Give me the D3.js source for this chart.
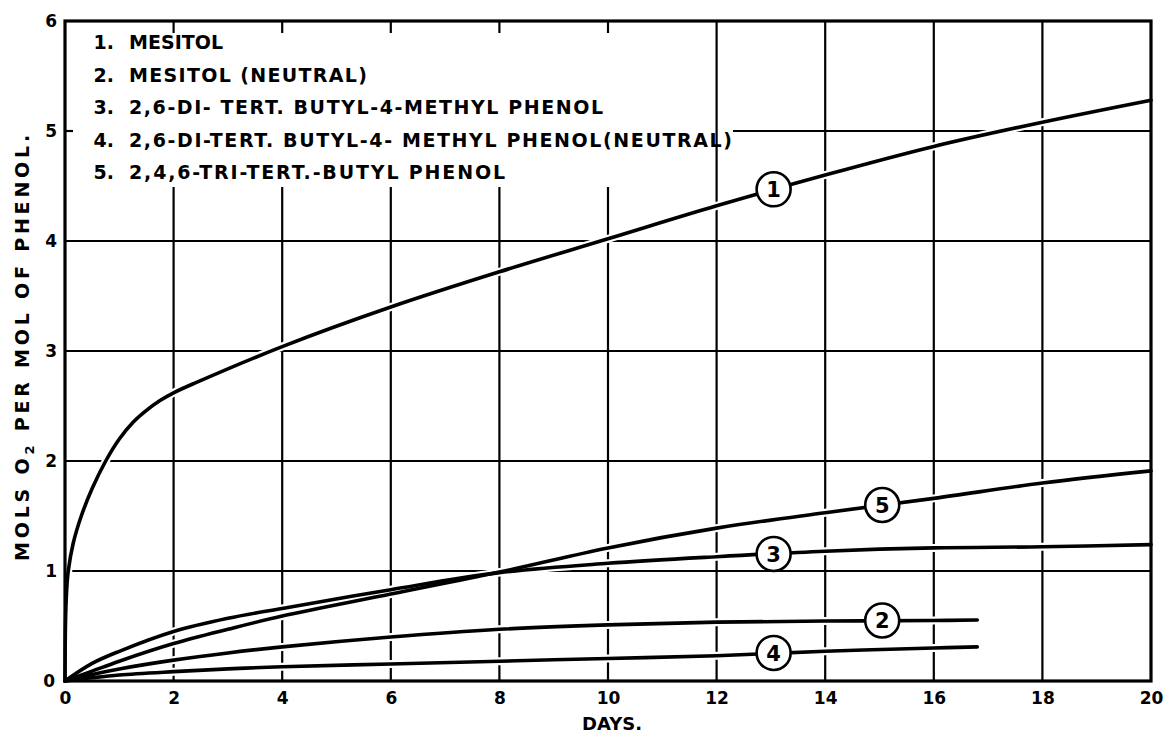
<!DOCTYPE html>
<html>
<head>
<meta charset="utf-8">
<script src="https://cdn.jsdelivr.net/npm/d3@7"></script>
<style>
  body { margin: 0; background: #fff; }
  svg text { font-family: "DejaVu Sans", sans-serif; font-weight: bold; fill: #000; }
</style>
</head>
<body>
<div id="chart"></div>
<script>
// values
var xTicks = [0, 2, 4, 6, 8, 10, 12, 14, 16, 18, 20];
var yTicks = [0, 1, 2, 3, 4, 5, 6];

var mesitolDays = [0, 0.01, 0.03, 0.06, 0.15, 0.3, 0.5, 0.75, 1, 1.25, 1.5, 1.75, 2, 2.4, 4, 6, 8, 10, 12, 14, 16, 18, 20];
var mesitol     = [0, 0.55, 0.82, 1.0, 1.25, 1.5, 1.75, 2.0, 2.2, 2.35, 2.46, 2.55, 2.62, 2.71, 3.04, 3.4, 3.72, 4.02, 4.32, 4.6, 4.86, 5.08, 5.28];

var longDays    = [0, 0.5, 1, 2, 3, 4, 6, 8, 10, 12, 14, 16, 18, 20];
var butylMethyl = [0, 0.16, 0.27, 0.45, 0.57, 0.66, 0.83, 0.985, 1.07, 1.13, 1.18, 1.21, 1.22, 1.24];
var triButyl    = [0, 0.09, 0.18, 0.34, 0.47, 0.59, 0.79, 0.99, 1.21, 1.39, 1.53, 1.66, 1.8, 1.91];

var shortDays          = [0, 0.5, 1, 2, 3, 4, 6, 8, 10, 12, 14, 16, 16.8];
var mesitolNeutral     = [0, 0.06, 0.11, 0.19, 0.255, 0.31, 0.4, 0.47, 0.51, 0.535, 0.545, 0.55, 0.555];
var butylMethylNeutral = [0, 0.03, 0.055, 0.085, 0.11, 0.13, 0.155, 0.18, 0.205, 0.23, 0.27, 0.3, 0.31];

var seriesNames = ["1", "2", "3", "4", "5"];
var legendNums  = ["1.", "2.", "3.", "4.", "5."];
var legendText  = ["MESITOL", "MESITOL (NEUTRAL)", "2,6-DI- TERT. BUTYL-4-METHYL PHENOL",
                   "2,6-DI-TERT. BUTYL-4- METHYL PHENOL(NEUTRAL)", "2,4,6-TRI-TERT.-BUTYL PHENOL"];
var legendLen   = [94, 238, 474, 603, 376];

// circled curve numbers
var labelDay   = [13.05, 15.05, 13.05, 13.05, 15.05];
var labelValue = [4.47, 0.55, 1.155, 0.255, 1.6];

var series = [
  {days: mesitolDays, vals: mesitol},
  {days: shortDays, vals: mesitolNeutral},
  {days: longDays, vals: butylMethyl},
  {days: shortDays, vals: butylMethylNeutral},
  {days: longDays, vals: triButyl}
];

var margin = {top: 21, right: 15, bottom: 52, left: 65},
    width = 1166 - margin.left - margin.right,
    height = 733 - margin.top - margin.bottom;

var x = d3.scaleLinear().domain([0, 20]).range([0, width]);
var y = d3.scaleLinear().domain([0, 6]).range([height, 0]);

var svg = d3.select('#chart').append('svg')
            .attr('width', 1166)
            .attr('height', 733);

var g = svg.append('g').attr('transform', 'translate(' + margin.left + ',' + margin.top + ')');

// grid (broken where the legend sits)
var legendBottom = 166, topTick = 12, leftTick = 8, row5Start = 668;
xTicks.filter(function(d){return d > 0 && d < 20;}).forEach(function(d){
  if (d <= 10) {
    g.append('line').attr('class', 'grid').attr('x1', x(d)).attr('x2', x(d)).attr('y1', 0).attr('y2', topTick);
    g.append('line').attr('class', 'grid').attr('x1', x(d)).attr('x2', x(d)).attr('y1', legendBottom).attr('y2', height);
  } else {
    g.append('line').attr('class', 'grid').attr('x1', x(d)).attr('x2', x(d)).attr('y1', 0).attr('y2', height);
  }
});
yTicks.filter(function(d){return d > 0 && d < 6;}).forEach(function(d){
  if (d === 5) {
    g.append('line').attr('class', 'grid').attr('x1', 0).attr('x2', leftTick).attr('y1', y(d)).attr('y2', y(d));
    g.append('line').attr('class', 'grid').attr('x1', row5Start).attr('x2', width).attr('y1', y(d)).attr('y2', y(d));
  } else {
    g.append('line').attr('class', 'grid').attr('x1', 0).attr('x2', width).attr('y1', y(d)).attr('y2', y(d));
  }
});
g.selectAll('.grid').attr('stroke', '#000').attr('stroke-width', 2.2);

var line = d3.line()
             .x(function(d){return x(d[0]);})
             .y(function(d){return y(d[1]);})
             .curve(d3.curveCatmullRom.alpha(0.5));

function pts(s){ return s.days.map(function(d, i){ return [d, s.vals[i]]; }); }

// white halo so grid lines break where curves cross
g.selectAll('.halo').data(series).enter().append('path')
  .attr('class', 'halo')
  .attr('d', function(s){return line(pts(s));})
  .attr('fill', 'none').attr('stroke', '#fff').attr('stroke-width', 8);

// frame
g.append('rect').attr('x', 0).attr('y', 0).attr('width', width).attr('height', height)
  .attr('fill', 'none').attr('stroke', '#000').attr('stroke-width', 3.2);

g.selectAll('.curve').data(series).enter().append('path')
  .attr('class', 'curve')
  .attr('d', function(s){return line(pts(s));})
  .attr('fill', 'none').attr('stroke', '#000').attr('stroke-width', 3.6)
  .attr('stroke-linecap', 'round');

// circled labels
var lab = g.selectAll('.lab').data(seriesNames).enter().append('g')
  .attr('class', 'lab')
  .attr('transform', function(d, i){return 'translate(' + x(labelDay[i]) + ',' + y(labelValue[i]) + ')';});
lab.append('circle').attr('r', 17).attr('fill', '#fff').attr('stroke', '#000').attr('stroke-width', 2.6);
lab.append('text').attr('text-anchor', 'middle').attr('dy', '0.36em')
  .style('font-size', '21px').text(function(d){return d;});

// axes
var xAxis = d3.axisBottom(x).tickValues(xTicks).tickSize(0).tickPadding(11).tickFormat(d3.format('d'));
var yAxis = d3.axisLeft(y).tickValues(yTicks).tickSize(0).tickPadding(8).tickFormat(d3.format('d'));

var gx = g.append('g').attr('transform', 'translate(0,' + height + ')').call(xAxis);
var gy = g.append('g').call(yAxis);
gx.select('.domain').remove();
gy.select('.domain').remove();
[gx, gy].forEach(function(a){
  a.selectAll('text').style('font-size', '17px').style('font-family', null).attr('fill', '#000');
});
gy.selectAll('.tick').filter(function(d){return d === 0;}).select('text').attr('x', -10);

// axis titles
g.append('text').attr('x', x(10) + 4).attr('y', height + 49)
  .attr('text-anchor', 'middle').style('font-size', '18px').text('DAYS.');

var yt = svg.append('text')
  .attr('transform', 'translate(29,' + (margin.top + y(3) - 5) + ') rotate(-90)')
  .attr('text-anchor', 'middle')
  .style('font-size', '19px').style('letter-spacing', '3.8px');
yt.append('tspan').text('MOLS O');
yt.append('tspan').attr('dy', 5).style('font-size', '13px').text('2');
yt.append('tspan').attr('dy', -5).text(' PER MOL OF PHENOL.');

// legend
var leg = g.selectAll('.leg').data(legendText).enter().append('g')
  .attr('class', 'leg')
  .attr('transform', function(d, i){return 'translate(0,' + (28 + i * 32.5) + ')';});
leg.append('text').attr('x', 49).attr('text-anchor', 'end').style('font-size', '19px')
  .text(function(d, i){return legendNums[i];});
leg.append('text').attr('x', 64).style('font-size', '19px')
  .attr('textLength', function(d, i){return legendLen[i];}).attr('lengthAdjust', 'spacing')
  .text(function(d){return d;});
</script>
</body>
</html>
